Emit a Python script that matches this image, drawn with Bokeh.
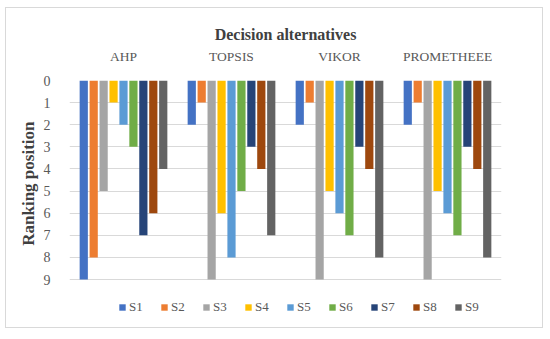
from bokeh.plotting import figure
from bokeh.models import ColumnDataSource, FactorRange, Range1d, Legend, LegendItem, FixedTicker, Title
from bokeh.transform import dodge
from bokeh.embed import file_html
from bokeh.resources import INLINE

methods = ["AHP", "TOPSIS", "VIKOR", "PROMETHEEE"]
series = ["S1", "S2", "S3", "S4", "S5", "S6", "S7", "S8", "S9"]
S1 = [9, 2, 2, 2]
S2 = [8, 1, 1, 1]
S3 = [5, 9, 9, 9]
S4 = [1, 6, 5, 5]
S5 = [2, 8, 6, 6]
S6 = [3, 5, 7, 7]
S7 = [7, 3, 3, 3]
S8 = [6, 4, 4, 4]
S9 = [4, 7, 8, 8]
values = [S1, S2, S3, S4, S5, S6, S7, S8, S9]
colors = ["#4472C4", "#ED7D31", "#A5A5A5", "#FFC000", "#5B9BD5",
          "#70AD47", "#264478", "#9E480E", "#636363"]
yticks = list(range(0, 10))

FONT = "Liberation Serif"

data = {"m": methods, "zero": [0] * 4}
for s, v in zip(series, values):
    data[s] = v
src = ColumnDataSource(data)

H = 321
TOP = 72
frame_h = H - TOP
px_per_unit = 199 / 9.0
y_bottom = frame_h / px_per_unit  # frame extends below rank 9 to hold the legend

p = figure(width=538, height=H, output_backend="svg", toolbar_location=None,
           x_range=FactorRange(*methods, range_padding=0),
           y_range=Range1d(y_bottom, 0),
           min_border_left=63, min_border_right=43, min_border_top=TOP, min_border_bottom=0,
           x_axis_location="above")
p.styles = {"border": "1px solid #d9d9d9", "margin-left": "5px", "margin-top": "7px"}
p.outline_line_color = None

items = []
step = 0.092
for i, (s, c) in enumerate(zip(series, colors)):
    r = p.vbar(x=dodge("m", (i - 4) * step, range=p.x_range), top="zero", bottom=s,
               width=0.076, source=src, fill_color=c, line_color=None)
    items.append(LegendItem(label=s, renderers=[r]))

# axes
xa = p.xaxis[0]
xa.axis_label = "Decision alternatives"
xa.axis_label_text_font = FONT
xa.axis_label_text_font_style = "bold"
xa.axis_label_text_font_size = "16px"
xa.axis_label_text_color = "#404040"
xa.axis_label_standoff = 3
xa.major_label_text_font = FONT
xa.major_label_text_font_size = "13.5px"
xa.major_label_text_color = "#595959"
xa.major_label_standoff = 11
xa.axis_line_color = None
xa.major_tick_line_color = None
xa.minor_tick_line_color = None

ya = p.yaxis[0]
ya.ticker = FixedTicker(ticks=yticks)
ya.major_label_text_font = FONT
ya.major_label_text_font_size = "14px"
ya.major_label_text_color = "#595959"
ya.major_label_standoff = 13
ya.axis_line_color = None
ya.major_tick_line_color = None
ya.minor_tick_line_color = None

ytitle = Title(text="Ranking position", align="right", offset=41, standoff=6,
               text_font=FONT, text_font_style="bold", text_font_size="17px",
               text_color="#404040")
p.add_layout(ytitle, "left")

p.xgrid.grid_line_color = None
p.ygrid.grid_line_color = "#d9d9d9"
p.ygrid.ticker = FixedTicker(ticks=yticks)

leg = Legend(items=items, orientation="horizontal", location=(49, 14),
             glyph_width=8, glyph_height=8, label_text_font=FONT,
             label_text_font_size="13px", label_text_color="#595959",
             label_standoff=3, spacing=11, padding=0, margin=0,
             border_line_color=None, background_fill_alpha=0)
p.add_layout(leg, "center")

open("out.html", "w").write(file_html(p, INLINE))
